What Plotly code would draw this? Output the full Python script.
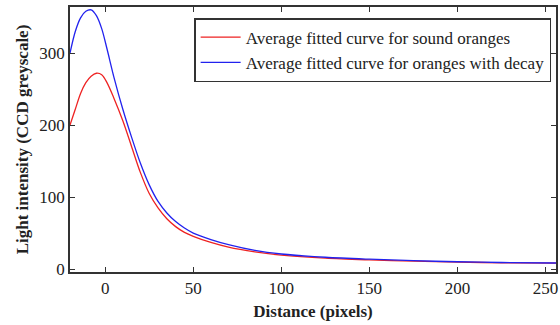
import plotly.graph_objects as go

x_red = [-20, -17, -14, -11, -8, -5, -2, 1, 5, 10, 15, 20, 25, 30, 35, 40, 45, 50, 60, 70, 85, 100, 125, 150, 175, 200, 225, 256]
y_red = [200, 222, 244, 259, 268, 272, 270, 259, 237, 206, 170, 134, 105, 85, 70, 59, 51, 45.5, 37, 30.5, 24, 19.5, 15.2, 12.8, 11, 9.7, 8.8, 8.3]

x_blue = [-20, -17, -14, -11, -8, -5, -2, 1, 5, 10, 15, 20, 25, 30, 35, 40, 45, 50, 60, 70, 85, 100, 125, 150, 175, 200, 225, 256]
y_blue = [300, 330, 349, 358, 360, 352, 334, 306, 266, 222, 183, 147, 117, 94, 78, 66, 57, 50, 41, 34, 26, 21, 16.5, 13.8, 11.8, 10.2, 9.2, 8.5]

names = ["Average fitted curve for sound oranges", "Average fitted curve for oranges with decay"]

FONT = "Liberation Serif"

fig = go.Figure()
fig.add_trace(go.Scatter(x=x_red, y=y_red, mode="lines", name=names[0],
                         line=dict(color="#ee2222", width=1.3, shape="spline", smoothing=0.9)))
fig.add_trace(go.Scatter(x=x_blue, y=y_blue, mode="lines", name=names[1],
                         line=dict(color="#2222ee", width=1.3, shape="spline", smoothing=0.9)))

axis_common = dict(showline=True, linecolor="#333333", linewidth=1.5, mirror="ticks",
                   ticks="inside", ticklen=5, tickcolor="#333333", tickwidth=1.2,
                   showgrid=False, zeroline=False,
                   tickfont=dict(family=FONT, size=17, color="#222222"))

fig.update_layout(
    width=560, height=325,
    margin=dict(l=70, r=2, t=7, b=53),
    paper_bgcolor="white", plot_bgcolor="white",
    font=dict(family=FONT, size=17, color="#222222"),
    xaxis=dict(range=[-20, 256], tickvals=[0, 50, 100, 150, 200, 250],
               title=dict(text="<b>Distance (pixels)</b>", font=dict(family=FONT, size=17), standoff=8),
               **axis_common),
    yaxis=dict(range=[-4, 364], tickvals=[0, 100, 200, 300],
               title=dict(text="<b>Light intensity (CCD greyscale)</b>", font=dict(family=FONT, size=17), standoff=6),
               **axis_common),
    legend=dict(x=0.99, y=0.958, xanchor="right", yanchor="top",
                bgcolor="white", bordercolor="#333333", borderwidth=1.5,
                font=dict(family=FONT, size=17, color="#222222"),
                tracegroupgap=0, itemwidth=40),
    showlegend=True,
)

fig.write_html("out.html")
